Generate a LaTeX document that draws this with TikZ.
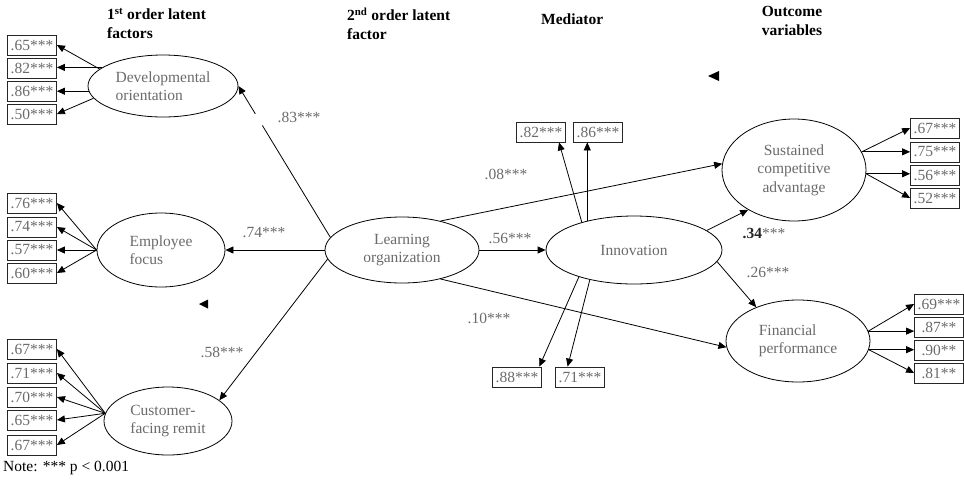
\documentclass[tikz,border=0pt]{standalone}
\usepackage{fontspec}
\setmainfont{Liberation Serif}
\usetikzlibrary{arrows.meta,shapes.geometric,calc}
\definecolor{txt}{gray}{0.42}
\begin{document}
\begin{tikzpicture}[x=1pt,y=-1pt,
  every node/.style={font=\fontsize{15.5}{18.5}\selectfont},
  lat/.style={ellipse,draw,line width=0.8pt,inner sep=0pt,text=txt},
  ind/.style={draw=black!85,line width=0.8pt,minimum width=49pt,minimum height=20pt,inner sep=1pt,text=txt},
  arr/.style={line width=0.8pt,-{Triangle[length=8pt,width=7pt]}},
  lab/.style={text=txt,inner sep=0pt},
  hdr/.style={font=\fontsize{15.5}{19}\selectfont\bfseries,inner sep=0pt,align=left}]
\useasboundingbox[fill=white] (0,0) rectangle (964,480);

% headers
\node[hdr,anchor=north west] (h1) at (107,8) {1\textsuperscript{st} order latent\\factors};
\node[hdr,anchor=north west] (h2) at (347,8) {2\textsuperscript{nd} order latent\\factor};
\node[hdr,anchor=base west] (h3) at (541,24) {Mediator};
\node[hdr,anchor=north,align=center] (h4) at (792,6) {Outcome\\variables};

% latent variables
\node[lat,minimum width=150pt,minimum height=62pt,align=left] (dev) at (163,86) {Developmental\\orientation};
\node[lat,minimum width=128pt,minimum height=74pt,align=left] (emp) at (161,250) {Employee\\focus};
\node[lat,minimum width=128pt,minimum height=68pt,align=left] (cust) at (168,421) {Customer-\\facing remit};
\node[lat,minimum width=154pt,minimum height=66pt,align=center] (lo) at (402,250) {Learning\\organization};
\node[lat,minimum width=176pt,minimum height=68pt,align=center] (inn) at (634,250) {Innovation};
\node[lat,minimum width=144pt,minimum height=102pt,align=center] (sus) at (794,170) {Sustained\\competitive\\advantage};
\node[lat,minimum width=144pt,minimum height=82pt,align=left] (fin) at (798,341) {Financial\\performance};

% indicator boxes
\node[ind] (d65) at (32,45) {.65***};
\node[ind] (d82) at (32,68) {.82***};
\node[ind] (d86) at (32,91) {.86***};
\node[ind] (d50) at (32,114) {.50***};
\node[ind] (e76) at (32,203) {.76***};
\node[ind] (e74) at (32,227) {.74***};
\node[ind] (e57) at (32,250) {.57***};
\node[ind] (e60) at (32,273) {.60***};
\node[ind] (c67a) at (32,349) {.67***};
\node[ind] (c71) at (32,373) {.71***};
\node[ind] (c70) at (32,397) {.70***};
\node[ind] (c65) at (32,420) {.65***};
\node[ind] (c67b) at (32,445) {.67***};
\node[ind] (s67) at (935,128) {.67***};
\node[ind] (s75) at (935,152) {.75***};
\node[ind] (s56) at (935,175) {.56***};
\node[ind] (s52) at (935,198) {.52***};
\node[ind] (f69) at (939,304) {.69***};
\node[ind] (f87) at (939,327) {.87**};
\node[ind] (f90) at (939,350) {.90**};
\node[ind] (f81) at (939,373) {.81**};
\node[ind] (i82) at (541,132) {.82***};
\node[ind] (i86) at (598,132) {.86***};
\node[ind] (i88) at (517,377) {.88***};
\node[ind] (i71) at (580,377) {.71***};

% structural paths
\draw[arr] (lo.170) -- (dev.east);
\draw[white,line width=3pt] ($(lo.170)!0.74!(dev.east)$) -- ($(lo.170)!0.815!(dev.east)$);
\draw[arr] (lo.west) -- (emp.east);
\draw[arr] (lo.187) -- (cust.22);
\draw[arr] (lo.east) -- (inn.west);
\draw[arr] (lo.37) -- (sus.175);
\draw[arr] (lo.-37) -- (fin.185);
\draw[arr] (inn.15) -- (sus.221);
\draw[arr] (inn.-8) -- (fin.141);

% path labels
\node[lab] (l83) at (299,117) {.83***};
\node[lab] (l74) at (264,233) {.74***};
\node[lab] (l58) at (222,352) {.58***};
\node[lab] (l56) at (510,238) {.56***};
\node[lab] (l08) at (506,174) {.08***};
\node[lab] (l10) at (489,318) {.10***};
\node[lab] (l34) at (764,233) {\textbf{\textcolor{black!85}{.34}}***};
\node[lab] (l26) at (768,272) {.26***};

% measurement arrows
\draw[arr] (dev.165) -- (d65.east);
\draw[arr] (dev.163) -- (dev.163 -| d82.east);
\draw[arr] (dev.184) -- (dev.184 -| d86.east);
\draw[arr] (dev.190) -- (d50.east);
\foreach \b in {e76,e74,e57,e60} \draw[arr] (emp.west) -- (\b.east);
\foreach \b in {c67a,c71,c70,c65,c67b} \draw[arr] (cust.173) -- (\b.east);
\draw[arr] (sus.15) -- (s67.west);
\draw[arr] (sus.15) -- (sus.15 -| s75.west);
\draw[arr] (sus.-3) -- (sus.-3 -| s56.west);
\draw[arr] (sus.-3) -- (s52.west);
\draw[arr] (fin.8) -- (f69.west);
\draw[arr] (fin.8) -- (fin.8 -| f87.west);
\draw[arr] (fin.-7) -- (fin.-7 -| f90.west);
\draw[arr] (fin.-7) -- (f81.west);
\draw[arr] (inn.152) -- (i82.330);
\draw[arr] (inn.148) -- (inn.148 |- i86.south);
\draw[arr] (inn.206) -- (i88.25);
\draw[arr] (inn.214) -- (i71.140);

% stray arrowheads
\fill (708,76) -- (719,71) -- (719,81) -- cycle;
\fill (199,304) -- (208,299.5) -- (208,308.5) -- cycle;

% note
\node[anchor=base west,inner sep=0pt] (note) at (3,471) {Note: *** p < 0.001};
\end{tikzpicture}
\end{document}
